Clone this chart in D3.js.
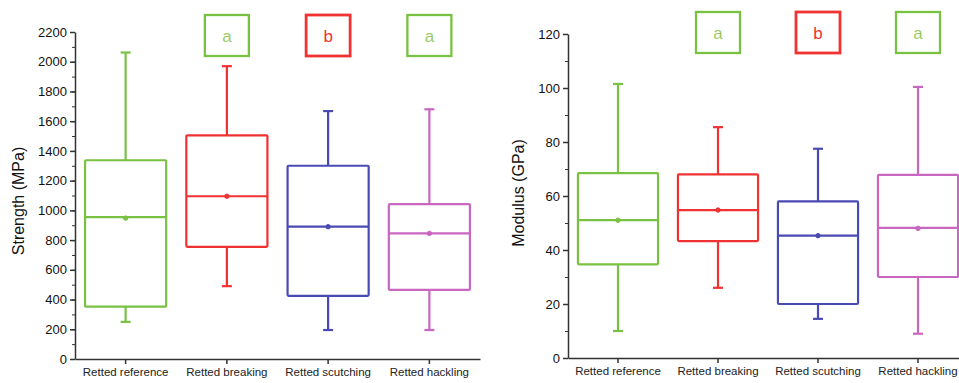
<!DOCTYPE html>
<meta charset="utf-8">
<style>
body { margin: 0; background: #fff; }
svg { display: block; font-family: "Liberation Sans", Arial, sans-serif; }
.axis path, .axis line { stroke: #333; }
.axis path { stroke-width: 1.5; }
.axis text { font-size: 13px; fill: #111; }
.axis--x text { font-size: 11.5px; fill: #222; }
</style>
<svg id="plot" width="959" height="383"></svg>
<script src="https://d3js.org/d3.v7.min.js"></script>
<script>

var categories = ["Retted reference", "Retted breaking", "Retted scutching", "Retted hackling"];
var colors = ["#78c142", "#f03232", "#4a4ab4", "#c866c0"];

// strength (MPa)
var strengthMin    = [250, 490, 195, 195];
var strengthQ1     = [352, 755, 425, 465];
var strengthMedian = [955, 1095, 890, 845];
var strengthMean   = [948, 1095, 890, 845];
var strengthQ3     = [1337, 1505, 1300, 1042];
var strengthMax    = [2062, 1970, 1668, 1680];

// modulus (GPa)
var modulusMin    = [10, 26, 14.5, 9];
var modulusQ1     = [34.7, 43.3, 20, 30];
var modulusMedian = [51.1, 54.8, 45.3, 48.2];
var modulusMean   = [51, 54.8, 45.3, 48];
var modulusQ3     = [68.5, 68, 58, 67.8];
var modulusMax    = [101.5, 85.5, 77.5, 100.4];

// significance letters (first group has none)
var groupLetters = ["", "a", "b", "a"];
var letterColors = ["", "#78c142", "#f03232", "#78c142"];

var svg = d3.select("svg");

function drawPanel(p) {
  var g = svg.append("g");

  var x = d3.scaleBand().domain(categories).range([p.left, p.right])
      .paddingInner(0.1).paddingOuter(0.05);
  var y = d3.scaleLinear().domain([0, p.max]).range([p.bottom, p.top]);

  var rows = categories.map(function(c, i) {
    return {cat: c, min: p.min[i], q1: p.q1[i], med: p.med[i], mean: p.mean[i],
            q3: p.q3[i], max: p.maxv[i], color: colors[i]};
  });

  // minor ticks
  g.append("g")
      .attr("class", "axis")
      .attr("transform", "translate(" + p.left + ",0)")
      .call(d3.axisLeft(y).ticks(p.max / p.minorStep).tickSize(3).tickFormat(""))
      .call(function(a) { a.select(".domain").remove(); });

  g.append("g")
      .attr("class", "axis axis--y")
      .attr("transform", "translate(" + p.left + ",0)")
      .call(d3.axisLeft(y).tickValues(d3.range(0, p.max + 1, p.majorStep))
        .tickFormat(d3.format("d")).tickSize(5).tickSizeOuter(0).tickPadding(3))
      .call(function(a) { a.selectAll(".tick line").attr("stroke-width", 1.5); });

  g.append("g")
      .attr("class", "axis axis--x")
      .attr("transform", "translate(0," + p.bottom + ")")
      .call(d3.axisBottom(x).tickSize(5).tickSizeOuter(0).tickPadding(4))
      .call(function(a) { a.selectAll(".tick line").attr("stroke-width", 1.5); });

  g.append("text")
      .attr("transform", "translate(" + p.labelX + "," + p.labelY + ") rotate(-90)")
      .attr("text-anchor", "middle")
      .attr("font-size", 16)
      .attr("fill", "#111")
      .text(p.label);

  var bw = x.bandwidth() * 0.89;
  var box = g.selectAll(".box").data(rows).enter().append("g")
      .attr("class", "box")
      .attr("stroke", function(d) { return d.color; })
      .attr("fill", "none")
      .attr("stroke-width", 2.2);

  function cx(d) { return x(d.cat) + x.bandwidth() / 2; }

  box.append("line")
      .attr("x1", cx).attr("x2", cx)
      .attr("y1", function(d) { return y(d.max); })
      .attr("y2", function(d) { return y(d.q3); });
  box.append("line")
      .attr("x1", cx).attr("x2", cx)
      .attr("y1", function(d) { return y(d.q1); })
      .attr("y2", function(d) { return y(d.min); });
  box.append("line")
      .attr("x1", function(d) { return cx(d) - 5; }).attr("x2", function(d) { return cx(d) + 5; })
      .attr("y1", function(d) { return y(d.max); }).attr("y2", function(d) { return y(d.max); });
  box.append("line")
      .attr("x1", function(d) { return cx(d) - 5; }).attr("x2", function(d) { return cx(d) + 5; })
      .attr("y1", function(d) { return y(d.min); }).attr("y2", function(d) { return y(d.min); });
  box.append("rect")
      .attr("x", function(d) { return cx(d) - bw / 2; })
      .attr("width", bw)
      .attr("y", function(d) { return y(d.q3); })
      .attr("height", function(d) { return y(d.q1) - y(d.q3); })
      .attr("rx", 1);
  box.append("line")
      .attr("x1", function(d) { return cx(d) - bw / 2; }).attr("x2", function(d) { return cx(d) + bw / 2; })
      .attr("y1", function(d) { return y(d.med); }).attr("y2", function(d) { return y(d.med); });
  box.append("circle")
      .attr("cx", cx)
      .attr("cy", function(d) { return y(d.mean); })
      .attr("r", 2.2)
      .attr("fill", function(d) { return d.color; })
      .attr("stroke-width", 1);

  // letter boxes
  var lb = g.selectAll(".letter").data(groupLetters.map(function(l, i) {
    return {cat: categories[i], letter: l, color: letterColors[i]};
  }).filter(function(d) { return d.letter; })).enter().append("g")
      .attr("class", "letter");

  lb.append("rect")
      .attr("x", function(d) { return cx(d) - 22; })
      .attr("y", p.letterTop)
      .attr("width", 44)
      .attr("height", 41)
      .attr("fill", "none")
      .attr("stroke", function(d) { return d.color; })
      .attr("stroke-width", function(d) { return d.letter == "b" ? 2.8 : 2.3; });

  lb.append("text")
      .attr("x", cx)
      .attr("y", p.letterTop + 27)
      .attr("text-anchor", "middle")
      .attr("font-size", 17)
      .attr("fill", function(d) { return d.letter == "b" ? "#f03232" : "#9ccc64"; })
      .text(function(d) { return d.letter; });
}

drawPanel({
  left: 75, right: 480, top: 32, bottom: 359,
  max: 2200, majorStep: 200, minorStep: 100,
  min: strengthMin, q1: strengthQ1, med: strengthMedian, mean: strengthMean, q3: strengthQ3, maxv: strengthMax,
  label: "Strength (MPa)", labelX: 24, labelY: 201, letterTop: 15
});

drawPanel({
  left: 568, right: 968, top: 34, bottom: 358,
  max: 120, majorStep: 20, minorStep: 10,
  min: modulusMin, q1: modulusQ1, med: modulusMedian, mean: modulusMean, q3: modulusQ3, maxv: modulusMax,
  label: "Modulus (GPa)", labelX: 524, labelY: 193, letterTop: 12
});

</script>
